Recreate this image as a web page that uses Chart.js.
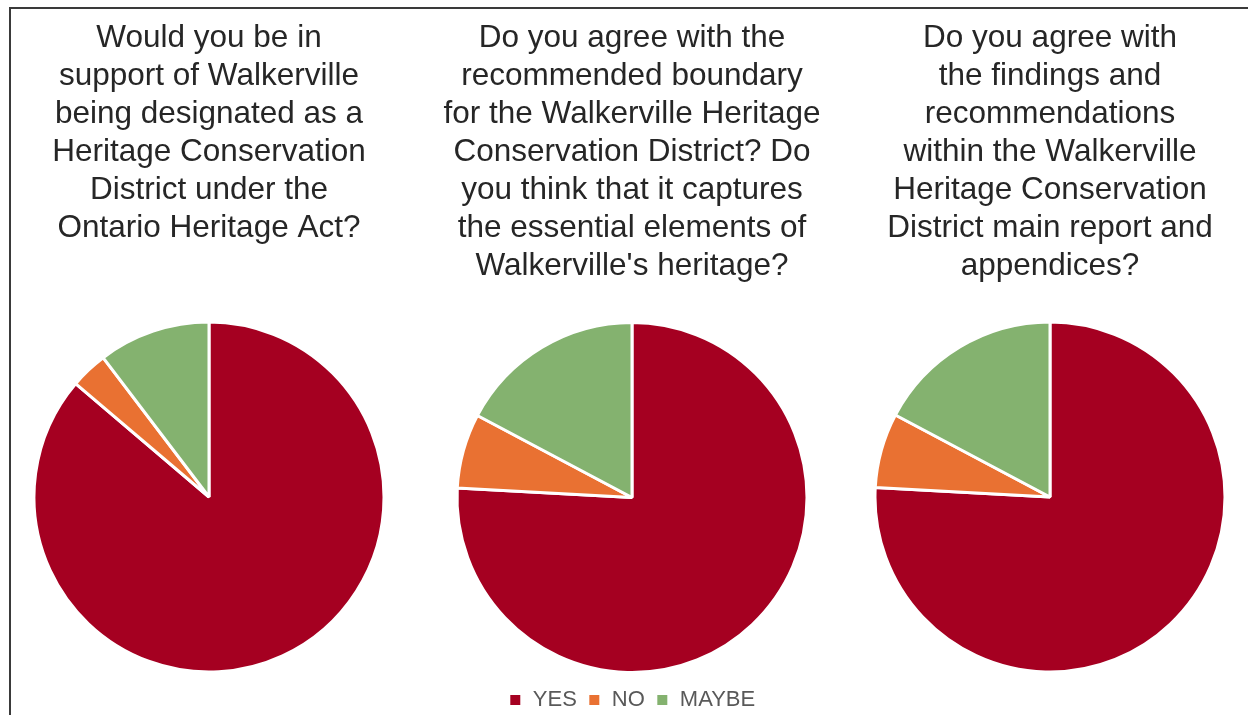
<!DOCTYPE html>
<html lang="en">
  <head>
    <meta charset="UTF-8" />
    <title>Walkerville survey</title>
    <style>
      body { margin: 0; background: #fff; overflow: hidden; }
      #frame {
        position: absolute; left: 9px; top: 7px; width: 1260px; height: 730px;
        border: 2px solid #3a3a3a; box-sizing: border-box;
      }
      canvas { position: absolute; }
    </style>
  </head>
  <body>
    <div id="frame"></div>
    <canvas id="pie1" width="420" height="661" style="left:-1px; top:10px"></canvas>
    <canvas id="pie2" width="420" height="705" style="left:422px; top:16px"></canvas>
    <canvas id="pie3" width="420" height="661" style="left:840px; top:10px"></canvas>

    <script src="https://cdn.jsdelivr.net/npm/chart.js"></script>
    <script>
      // survey answers
      const labels = ['YES', 'NO', 'MAYBE'];
      const colors = ['#A50021', '#E97132', '#84B26F'];

      const q1Values = [75, 3, 9];
      const q2Values = [66, 6, 15];
      const q3Values = [66, 6, 15];

      const q1Title = ['Would you be in', 'support of Walkerville', 'being designated as a',
        'Heritage Conservation', 'District under the', 'Ontario Heritage Act?'];
      const q2Title = ['Do you agree with the', 'recommended boundary', 'for the Walkerville Heritage',
        'Conservation District? Do', 'you think that it captures', 'the essential elements of',
        "Walkerville's heritage?"];
      const q3Title = ['Do you agree with', 'the findings and', 'recommendations',
        'within the Walkerville', 'Heritage Conservation', 'District main report and', 'appendices?'];

      // padTop / padBottom keep every title starting at y=38 and every pie centred at y=497
      function makePie(id, values, title, showLegend, padTop, padBottom) {
        return new Chart(document.getElementById(id).getContext('2d'), {
          type: 'pie',
          data: {
            labels: labels,
            datasets: [{
              data: values,
              backgroundColor: colors,
              borderColor: '#ffffff',
              borderWidth: 3
            }]
          },
          options: {
            responsive: false,
            animation: false,
            radius: 175,
            layout: { padding: 0 },
            events: [],
            plugins: {
              tooltip: { enabled: false },
              title: {
                display: true,
                text: title,
                color: '#262626',
                font: { family: "'Liberation Sans', Arial, sans-serif", size: 31.5, weight: 'normal', lineHeight: '38px' },
                padding: { top: padTop, bottom: padBottom }
              },
              legend: {
                display: showLegend,
                position: 'bottom',
                labels: {
                  color: '#595959',
                  boxWidth: 13,
                  boxHeight: 13,
                  padding: 11,
                  font: { family: "'Liberation Sans Narrow', 'Liberation Sans', Arial, sans-serif", size: 22 }
                }
              }
            }
          }
        });
      }

      makePie('pie1', q1Values, q1Title, false, 9, 323 - 19 - 6 * 38);
      makePie('pie2', q2Values, q2Title, true, 3, 32);
      makePie('pie3', q3Values, q3Title, false, 9, 323 - 19 - 7 * 38);
    </script>
  </body>
</html>
